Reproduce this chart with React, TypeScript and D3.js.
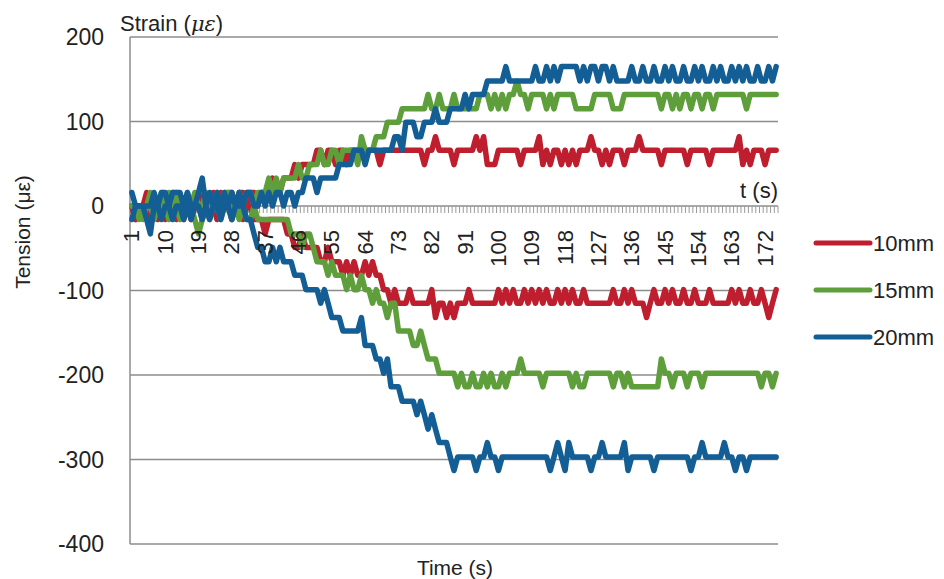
import React from "react";
import * as d3 from "d3";

// time axis: one category per second
const times = d3.range(1, 176);
const timeLabels = [1, 10, 19, 28, 37, 46, 55, 64, 73, 82, 91, 100, 109, 118, 127, 136, 145, 154, 163, 172];
const yTicks = [200, 100, 0, -100, -200, -300, -400];
const gridVals = [200, 100, -100, -200, -300, -400];

// strain (upper curves), values in microstrain
const up10 = [
  0, -16, 0, 0, 16, 0, 0, -16, 0, 0, 0, 16, 0, 0, -16, 0, 0, 0, 16, 0,
  0, 0, 16, 0, 16, 0, 16, 16, 0, 16, 16, 0, 16, 16, 0, 16, 16, 16, 33, 16,
  16, 33, 33, 33, 49, 33, 49, 49, 49, 49, 66, 66, 49, 66, 66, 49, 66, 66, 49, 66,
  66, 66, 66, 66, 66, 66, 66, 49, 66, 66, 66, 66, 66, 66, 66, 66, 66, 66, 66, 49,
  66, 66, 82, 66, 66, 66, 66, 49, 66, 66, 66, 66, 66, 82, 66, 82, 49, 49, 49, 66,
  66, 66, 66, 66, 66, 49, 66, 66, 66, 66, 82, 49, 66, 49, 66, 66, 49, 66, 49, 66,
  49, 66, 66, 66, 82, 66, 66, 49, 66, 49, 66, 66, 66, 49, 66, 66, 66, 82, 66, 66,
  66, 66, 66, 49, 66, 66, 66, 66, 66, 66, 49, 66, 66, 66, 66, 66, 49, 66, 66, 66,
  66, 66, 66, 66, 82, 49, 66, 49, 66, 66, 66, 49, 66, 66, 66,
];
const up15 = [
  0, 0, -16, 0, 0, 16, 0, 0, 16, 0, 16, 0, 16, 0, 0, 16, 0, 16, 0, 0,
  16, 0, 0, 16, 0, 16, 16, 0, 0, 16, 0, 16, 16, 0, 16, 16, 16, 33, 16, 33,
  16, 33, 33, 33, 33, 49, 33, 33, 49, 49, 49, 66, 49, 49, 66, 66, 49, 66, 66, 66,
  66, 49, 82, 66, 66, 66, 82, 82, 82, 99, 99, 99, 99, 115, 115, 115, 115, 115, 115, 115,
  132, 115, 115, 132, 115, 115, 115, 132, 115, 115, 115, 115, 115, 115, 132, 132, 132, 115, 132, 115,
  132, 115, 132, 132, 148, 132, 132, 115, 132, 132, 132, 132, 115, 132, 115, 132, 132, 132, 132, 132,
  115, 115, 115, 115, 115, 132, 132, 132, 132, 132, 115, 115, 115, 132, 132, 132, 132, 132, 132, 132,
  132, 132, 132, 115, 132, 132, 115, 132, 115, 132, 132, 115, 132, 132, 115, 132, 132, 115, 132, 132,
  132, 132, 132, 132, 132, 132, 115, 132, 132, 132, 132, 132, 132, 132, 132,
];
const up20 = [
  16, 0, 0, 0, 0, 0, 16, 0, 16, 16, 0, 16, 16, 16, 0, 16, 0, 0, 16, 33,
  0, 16, 0, 16, 0, 16, 0, 16, 0, 16, 0, 16, 16, 0, 0, 16, 0, 16, 0, 16,
  16, 0, 16, 16, 0, 16, 16, 33, 33, 33, 16, 33, 33, 33, 33, 33, 49, 49, 49, 49,
  66, 66, 66, 49, 66, 66, 66, 66, 66, 66, 66, 82, 82, 66, 99, 99, 99, 82, 82, 99,
  99, 99, 115, 99, 99, 99, 115, 115, 115, 115, 132, 115, 132, 132, 132, 132, 148, 148, 148, 148,
  148, 165, 148, 148, 148, 148, 148, 148, 148, 165, 148, 148, 165, 148, 165, 148, 165, 165, 165, 165,
  165, 148, 165, 148, 165, 165, 148, 165, 165, 148, 165, 148, 148, 148, 148, 165, 148, 148, 165, 148,
  148, 165, 148, 148, 165, 148, 165, 148, 148, 165, 148, 148, 165, 148, 165, 148, 148, 165, 148, 165,
  148, 148, 165, 148, 165, 148, 165, 148, 148, 165, 148, 148, 165, 148, 165,
];

// tension (lower curves), values in microstrain
const down10 = [
  0, -16, 0, 0, 0, -16, 0, 0, 0, -16, 0, 0, -16, 0, 0, 0, -16, 0, 0, -16,
  0, 0, 0, -16, 0, 0, 0, -16, 0, 0, -16, 0, 0, -16, -16, -16, -33, -16, -16, -16,
  -16, -16, -33, -33, -49, -49, -33, -49, -49, -49, -49, -66, -66, -49, -66, -66, -66, -82, -66, -82,
  -66, -82, -82, -66, -82, -66, -82, -82, -99, -99, -115, -99, -115, -115, -115, -99, -115, -115, -115, -115,
  -115, -99, -132, -115, -115, -132, -115, -132, -115, -115, -115, -99, -115, -115, -115, -115, -115, -115, -115, -99,
  -115, -99, -115, -99, -115, -115, -99, -115, -99, -115, -99, -115, -99, -115, -115, -99, -115, -99, -115, -99,
  -115, -115, -99, -115, -115, -115, -115, -115, -115, -115, -99, -115, -115, -99, -115, -99, -115, -115, -115, -132,
  -115, -99, -115, -115, -99, -115, -99, -115, -115, -99, -115, -115, -99, -115, -115, -115, -99, -115, -115, -115,
  -115, -115, -99, -115, -99, -115, -115, -99, -115, -115, -99, -115, -132, -115, -99,
];
const down15 = [
  0, 0, 0, -16, 0, 0, -16, 0, 0, 0, -16, 0, 0, -16, 0, 0, 0, -16, -33, -16,
  0, -16, 0, 0, -16, 0, 0, -16, 0, -16, 0, -16, -16, 0, -16, -16, -16, -16, -16, -16,
  -16, -16, -16, -33, -33, -33, -49, -33, -33, -49, -66, -66, -66, -82, -66, -82, -82, -82, -99, -82,
  -99, -99, -82, -99, -99, -115, -99, -115, -115, -132, -115, -115, -148, -148, -148, -148, -165, -165, -148, -165,
  -181, -181, -181, -198, -198, -198, -198, -198, -214, -198, -214, -214, -198, -214, -214, -198, -214, -198, -214, -214,
  -198, -214, -198, -198, -198, -181, -198, -198, -198, -198, -198, -214, -198, -198, -198, -198, -198, -198, -198, -214,
  -198, -214, -214, -198, -198, -198, -198, -198, -198, -198, -214, -198, -198, -214, -198, -214, -214, -214, -214, -214,
  -214, -214, -214, -181, -198, -198, -214, -198, -198, -198, -214, -198, -198, -198, -214, -198, -198, -198, -198, -198,
  -198, -198, -198, -198, -198, -198, -198, -198, -198, -198, -214, -198, -198, -214, -198,
];
const down20 = [
  -16, 0, 0, 0, -16, -33, 0, 0, -16, 0, 0, -16, 0, 0, -16, 0, -16, 0, 0, -16,
  0, -16, 0, 0, -16, 0, 0, -16, 0, 0, 0, -16, -16, -33, -49, -49, -66, -66, -49, -66,
  -49, -66, -66, -66, -82, -82, -82, -99, -99, -99, -99, -115, -99, -115, -132, -132, -132, -148, -148, -148,
  -148, -148, -132, -165, -165, -165, -181, -181, -198, -181, -214, -214, -214, -231, -231, -231, -231, -247, -231, -247,
  -264, -247, -264, -280, -280, -280, -297, -313, -297, -297, -297, -297, -297, -313, -297, -297, -280, -297, -297, -313,
  -297, -297, -297, -297, -297, -297, -297, -297, -297, -297, -297, -297, -297, -313, -297, -280, -297, -313, -280, -297,
  -297, -297, -297, -297, -313, -297, -297, -280, -297, -297, -297, -297, -297, -280, -313, -297, -297, -297, -297, -297,
  -297, -313, -297, -297, -297, -297, -297, -297, -297, -297, -297, -313, -297, -297, -280, -297, -297, -297, -297, -297,
  -280, -297, -297, -313, -297, -297, -313, -297, -297, -297, -297, -297, -297, -297, -297,
];

const legendNames = ["10mm", "15mm", "20mm"];
const colors = ["#BE1E2D", "#5E9F3C", "#145E96"];

const font = "'Liberation Sans', Arial, sans-serif";

export default function App() {
  const left = 130, right = 778, top = 37, bottom = 544;
  const x = d3.scaleBand<number>().domain(times).range([left, right]);
  const y = d3.scaleLinear().domain([-400, 200]).range([bottom, top]);
  const cx = (t: number) => (x(t) as number) + x.bandwidth() / 2;
  const line = d3.line<number>().x((_, i) => cx(times[i])).y((d) => y(d));

  const series = [
    { vals: up10, c: colors[0] }, { vals: down10, c: colors[0] },
    { vals: up15, c: colors[1] }, { vals: down15, c: colors[1] },
    { vals: up20, c: colors[2] }, { vals: down20, c: colors[2] },
  ];
  const y0 = y(0);

  return (
    <svg width={944} height={579} style={{ position: "absolute", left: 0, top: 0, background: "#fff" }} fontFamily={font}>
      {/* gridlines */}
      {gridVals.map((v) => (
        <line key={v} x1={left} x2={right} y1={y(v)} y2={y(v)} stroke="#8c8c8c" strokeWidth={1.5} />
      ))}
      <line x1={left} x2={left} y1={top} y2={bottom} stroke="#8c8c8c" strokeWidth={1.5} />

      {/* x axis at zero with a tick per second */}
      <line x1={left} x2={right} y1={y0} y2={y0} stroke="#8c8c8c" strokeWidth={1.5} />
      {times.concat([times.length + 1]).map((t, i) => {
        const px = left + i * x.step();
        return <line key={"t" + i} x1={px} x2={px} y1={y0} y2={y0 + 7} stroke="#9a9a9a" strokeWidth={1} />;
      })}

      {/* series */}
      {series.map((s, i) => (
        <path key={i} d={line(s.vals) || ""} fill="none" stroke={s.c} strokeWidth={5.5} strokeLinejoin="round" strokeLinecap="round" />
      ))}

      {/* y tick labels */}
      {yTicks.map((v) => (
        <text key={v} x={104} y={y(v)} textAnchor="end" dominantBaseline="central" fontSize={23} fill="#222">
          {v}
        </text>
      ))}

      {/* x tick labels */}
      {timeLabels.map((t) => (
        <text key={t} transform={`translate(${cx(t)},${230}) rotate(-90)`} textAnchor="end" dominantBaseline="central" fontSize={22} fill="#222">
          {t}
        </text>
      ))}

      {/* titles */}
      <text x={120} y={31} fontSize={22} fill="#222">
        Strain (
        <tspan fontFamily="'DejaVu Serif', serif" fontStyle="italic" fontSize={21}>με</tspan>)
      </text>
      <text x={778} y={198} textAnchor="end" fontSize={22} fill="#222">t (s)</text>
      <text transform={`translate(22,${232}) rotate(-90)`} textAnchor="middle" dominantBaseline="central" fontSize={21} fill="#222">
        Tension (με)
      </text>
      <text x={455} y={575} textAnchor="middle" fontSize={21} fill="#222">Time (s)</text>

      {/* legend */}
      {legendNames.map((n, i) => (
        <g key={n} transform={`translate(816,${243 + i * 47})`}>
          <line x1={0} x2={54} y1={0} y2={0} stroke={colors[i]} strokeWidth={5} strokeLinecap="round" />
          <text x={57} y={0} dominantBaseline="central" fontSize={22} fill="#222">{n}</text>
        </g>
      ))}
    </svg>
  );
}
